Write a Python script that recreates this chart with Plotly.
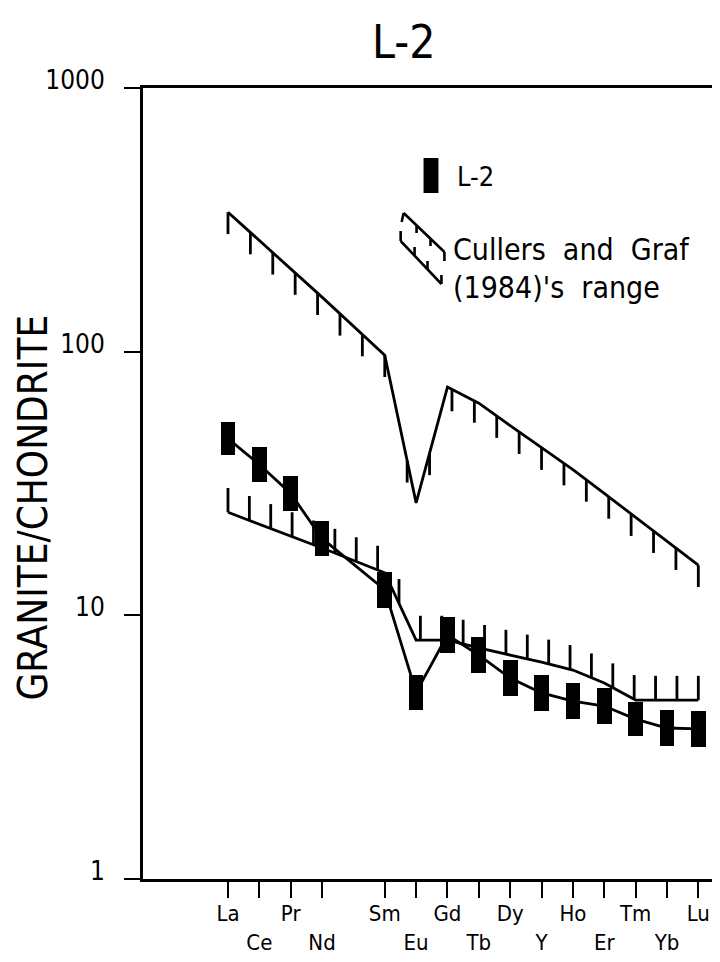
import numpy as np
import plotly.graph_objects as go

# ---------------- data ----------------
elements = ["La", "Ce", "Pr", "Nd", "Sm", "Eu", "Gd", "Tb", "Dy", "Y", "Ho", "Er", "Tm", "Yb", "Lu"]
axis_order = ["La", "Ce", "Pr", "Nd", "Pm", "Sm", "Eu", "Gd", "Tb", "Dy", "Y", "Ho", "Er", "Tm", "Yb", "Lu"]

# L-2 sample: block extent (high / low) per element
l2_high = [54.1, 43.5, 33.7, 22.8, 14.6, 5.94, 9.86, 8.27, 6.77, 5.94, 5.54, 5.30, 4.69, 4.38, 4.34]
l2_low = [40.5, 32.0, 24.9, 16.8, 10.7, 4.38, 7.19, 6.04, 4.94, 4.34, 4.04, 3.87, 3.48, 3.19, 3.17]

# Cullers and Graf (1984) range
range_upper = [338, 264, 206, 161, 97, 26.7, 73.4, 63.8, 52.4, 43.1, 35.7, 29.0, 23.5, 19.1, 15.5]
range_lower = [24.6, 22.2, 20.0, 18.0, 14.5, 8.06, 8.06, 7.52, 7.07, 6.65, 6.2, 5.54, 4.77, 4.77, 4.77]

y_tick_vals = [1, 10, 100, 1000]
y_tick_text = ["1", "10", "100", "1000"]

# ---------------- layout helpers ----------------
OFF = 8                      # page body margin of the html page
W, H = 712, 954
ML, MR, MT, MB = 135, 3, 80, 83
PW, PH = W - ML - MR, H - MT - MB

def px_x(x):                 # page pixel -> paper
    return (x - OFF - ML) / PW

def px_y(y):
    return (H - MB - (y - OFF)) / PH

NARROW = "Liberation Sans Narrow, DejaVu Sans Condensed, Arial Narrow, sans-serif"
COND = "DejaVu Sans Condensed, Liberation Sans Narrow, sans-serif"

pos = [axis_order.index(e) for e in elements]
l2_mid = [float(np.sqrt(h * l)) for h, l in zip(l2_high, l2_low)]


def hatches(values, n, length_dec, direction):
    hx = np.linspace(pos[0], pos[-1], n)
    hy = np.interp(hx, pos, np.log10(values))
    xs, ys = [], []
    for x, ly in zip(hx, hy):
        xs += [float(x), float(x), None]
        ys += [10 ** ly, 10 ** (ly + direction * length_dec), None]
    return xs, ys


LW = 2.8
fig = go.Figure()

# upper range curve + hatches (hanging down)
fig.add_trace(go.Scatter(x=pos, y=range_upper, mode="lines",
                         line=dict(color="black", width=LW), hoverinfo="skip"))
ux, uy = hatches(range_upper, 22, 0.083, -1)
fig.add_trace(go.Scatter(x=ux, y=uy, mode="lines",
                         line=dict(color="black", width=LW), hoverinfo="skip"))

# lower range curve + hatches (pointing up)
fig.add_trace(go.Scatter(x=pos, y=range_lower, mode="lines",
                         line=dict(color="black", width=LW), hoverinfo="skip"))
lx, ly_ = hatches(range_lower, 23, 0.092, 1)
fig.add_trace(go.Scatter(x=lx, y=ly_, mode="lines",
                         line=dict(color="black", width=LW), hoverinfo="skip"))

# L-2 sample line and blocks
fig.add_trace(go.Scatter(x=pos, y=l2_mid, mode="lines",
                         line=dict(color="black", width=LW), hoverinfo="skip"))
fig.add_trace(go.Bar(x=pos, y=[h - l for h, l in zip(l2_high, l2_low)], base=l2_low,
                     width=0.47, marker=dict(color="black", line=dict(width=0))))

# ---------------- axes ----------------
tick_text = [("<br>" + e) if i % 2 else e for i, e in enumerate(elements)]
fig.update_xaxes(range=[-2.71, 15.5], tickvals=pos, ticktext=tick_text,
                 ticks="outside", ticklen=16, tickwidth=2, tickcolor="black",
                 showline=True, linewidth=3, linecolor="black", mirror=True,
                 showgrid=False, zeroline=False, ticklabelstandoff=-3,
                 tickfont=dict(family=NARROW, size=22, color="black"))
fig.update_yaxes(type="log", range=[0, 3], tickvals=y_tick_vals, ticktext=y_tick_text,
                 ticks="outside", ticklen=16, tickwidth=2, tickcolor="black",
                 showline=True, linewidth=3, linecolor="black", mirror=True,
                 showgrid=False, zeroline=False, ticklabelstandoff=14, ticklabelshift=-8,
                 tickfont=dict(family=NARROW, size=26, color="black"))

# ---------------- legend (drawn) ----------------
shapes = [
    dict(type="rect", xref="paper", yref="paper",
         x0=px_x(425), x1=px_x(440), y0=px_y(193), y1=px_y(158),
         fillcolor="black", line=dict(width=0)),
]

def seg(x0, y0, x1, y1, w=2.6):
    return dict(type="line", xref="paper", yref="paper",
                x0=px_x(x0), y0=px_y(y0), x1=px_x(x1), y1=px_y(y1),
                line=dict(color="black", width=w))

# upper symbol line with down hatches
shapes += [seg(403, 222, 405, 213), seg(405, 213, 446, 252), seg(446, 252, 446, 261),
           seg(418, 225, 418, 233), seg(432, 238, 432, 246)]
# lower symbol line with up hatches
shapes += [seg(402, 231, 402, 241), seg(402, 241, 443, 284), seg(443, 284, 443, 275),
           seg(416, 255, 416, 247), seg(429, 269, 429, 261)]

annotations = [
    dict(text="L-2", xref="paper", yref="paper", x=px_x(405), y=px_y(42),
         xanchor="center", yanchor="middle", showarrow=False,
         font=dict(family=COND, size=46, color="black")),
    dict(text="GRANITE/CHONDRITE", xref="paper", yref="paper", x=px_x(32), y=px_y(508),
         xanchor="center", yanchor="middle", textangle=-90, showarrow=False,
         font=dict(family=NARROW, size=40, color="black")),
    dict(text="L-2", xref="paper", yref="paper", x=px_x(457), y=px_y(177),
         xanchor="left", yanchor="middle", showarrow=False,
         font=dict(family=COND, size=27, color="black")),
    dict(text="Cullers  and  Graf", xref="paper", yref="paper", x=px_x(453), y=px_y(249),
         xanchor="left", yanchor="middle", showarrow=False,
         font=dict(family=COND, size=30, color="black")),
    dict(text="(1984)'s  range", xref="paper", yref="paper", x=px_x(453), y=px_y(287),
         xanchor="left", yanchor="middle", showarrow=False,
         font=dict(family=COND, size=30, color="black")),
]

fig.update_layout(width=W, height=H, margin=dict(l=ML, r=MR, t=MT, b=MB),
                  paper_bgcolor="white", plot_bgcolor="white", showlegend=False,
                  shapes=shapes, annotations=annotations, bargap=0)

fig.write_html("out.html")
